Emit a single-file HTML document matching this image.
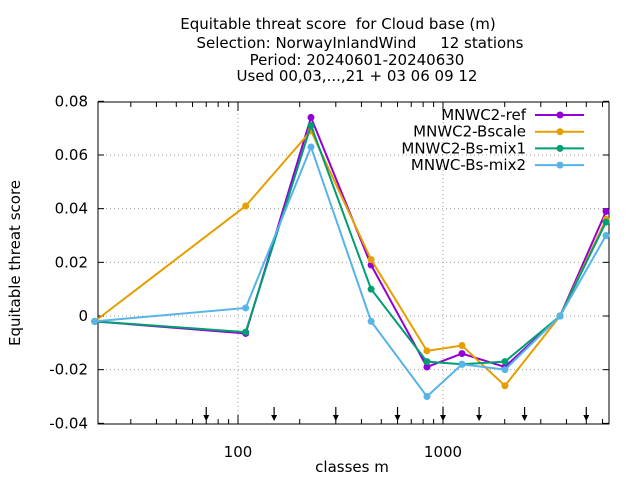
<!DOCTYPE html>
<html><head><meta charset="utf-8"><style>
body{margin:0;background:#fff;}
svg text{font-family:"DejaVu Sans","Liberation Sans",sans-serif;white-space:pre;}
</style></head><body>
<svg id="chart" width="640" height="480" xmlns="http://www.w3.org/2000/svg" xml:space="preserve">
<g font-size="15" text-anchor="middle">
<text x="338" y="29">Equitable threat score  for Cloud base (m)</text>
<text x="360" y="48">Selection: NorwayInlandWind     12 stations</text>
<text x="357" y="65">Period: 20240601-20240630</text>
<text x="357" y="81">Used 00,03,...,21 + 03 06 09 12</text>
</g>
<g id="grid"></g>
<g id="axes"></g>
<g id="series"></g>
<g id="legend"></g>
<text x="352" y="472" font-size="15" text-anchor="middle">classes m</text>
<text transform="translate(20,263) rotate(-90)" font-size="15" text-anchor="middle">Equitable threat score</text>
</svg>
<script>
const classes=[20,109,227,446,835,1238,2005,3724,6240];
const seriesNames=["MNWC2-ref","MNWC2-Bscale","MNWC2-Bs-mix1","MNWC-Bs-mix2"];
const seriesRef=[-0.002,-0.0065,0.074,0.019,-0.019,-0.014,-0.019,0,0.039];
const seriesBscale=[-0.002,0.041,0.069,0.021,-0.013,-0.011,-0.026,0,0.036];
const seriesMix1=[-0.002,-0.006,0.071,0.010,-0.017,-0.018,-0.017,0,0.035];
const seriesMix2=[-0.002,0.003,0.063,-0.002,-0.030,-0.018,-0.020,0,0.030];
const yTicks=[0.08,0.06,0.04,0.02,0,-0.02,-0.04];
const yTickLabels=["0.08","0.06","0.04","0.02","0","-0.02","-0.04"];
const xTicks=[100,1000];
const xTickLabels=["100","1000"];
const thresholds=[70,150,300,600,1000,1500,2500,5000];
const colors=["#9400d3","#e69f00","#009e73","#56b4e9"];
const X0=98,X1=609,Y0=102,Y1=424;
function xs(v){return 238+205*(Math.log10(v)-2);}
function ys(v){return 316-(v/0.02)*53.67;}
const NS="http://www.w3.org/2000/svg";
function mk(tag,attrs,parent){const e=document.createElementNS(NS,tag);for(const k in attrs)e.setAttribute(k,attrs[k]);parent.appendChild(e);return e;}
const grid=document.getElementById('grid'),axes=document.getElementById('axes');
yTicks.forEach((t,i)=>{
  const y=ys(t);
  if(i>0&&i<yTicks.length-1){const l=mk('line',{x1:X0,x2:X1,y1:y,y2:y,stroke:'#a0a0a0','stroke-dasharray':'1,3'},grid);
  
  }
  mk('line',{x1:X0,x2:X0+6,y1:y,y2:y,stroke:'#000'},axes);
  mk('line',{x1:X1,x2:X1-6,y1:y,y2:y,stroke:'#000'},axes);
  const tx=mk('text',{x:88,y:y+5,'font-size':15,'text-anchor':'end'},axes);
  tx.textContent=yTickLabels[i];
  
  
});
xTicks.forEach((t,i)=>{
  const x=xs(t);
  const l=mk('line',{x1:x,x2:x,y1:Y0,y2:Y1,stroke:'#a0a0a0','stroke-dasharray':'1,3'},grid);
  
  
  mk('line',{x1:x,x2:x,y1:Y1,y2:Y1-9,stroke:'#000'},axes);
  mk('line',{x1:x,x2:x,y1:Y0,y2:Y0+9,stroke:'#000'},axes);
  const tx=mk('text',{x:x,y:457,'font-size':15,'text-anchor':'middle'},axes);
  tx.textContent=xTickLabels[i];
  
  
});
for(let d=10;d<=1000;d*=10){for(let m=2;m<=9;m++){const v=d*m;const x=xs(v);if(x<X0||x>X1)continue;
  mk('line',{x1:x,x2:x,y1:Y1,y2:Y1-5,stroke:'#000'},axes);
  mk('line',{x1:x,x2:x,y1:Y0,y2:Y0+5,stroke:'#000'},axes);}}
const frame=mk('rect',{x:X0,y:Y0,width:X1-X0,height:Y1-Y0,fill:'none',stroke:'#000'},axes);


thresholds.forEach(t=>{const x=xs(t);
  const g=mk('g',{},axes);
  
  
  mk('line',{x1:x,x2:x,y1:407,y2:420,stroke:'#000','stroke-width':1.2},g);
  mk('path',{d:`M${x-3},415 L${x+3},415 L${x},421 Z`,fill:'#000'},g);
});
const ser=document.getElementById('series');
const allSeries=[seriesRef,seriesBscale,seriesMix1,seriesMix2];
const names=['series-mnwc2-ref','series-mnwc2-bscale','series-mnwc2-bs-mix1','series-mnwc-bs-mix2'];
allSeries.forEach((vals,si)=>{
  const g=mk('g',{},ser);
  
  
  const pts=vals.map((v,i)=>xs(classes[i])+','+ys(v)).join(' ');
  mk('polyline',{points:pts,fill:'none',stroke:colors[si],'stroke-width':2},g);
  vals.forEach((v,i)=>{const c=mk('circle',{cx:xs(classes[i]),cy:ys(v),r:3.5,fill:colors[si]},g);
    
    });
});
const leg=document.getElementById('legend');
seriesNames.forEach((n,i)=>{
  const y=115+16.7*i;
  const g=mk('g',{},leg);
  
  
  const t=mk('text',{x:526,y:y+5,'font-size':15,'text-anchor':'end'},g);t.textContent=n;
  mk('line',{x1:535,x2:584,y1:y,y2:y,stroke:colors[i],'stroke-width':2},g);
  mk('circle',{cx:560,cy:y,r:3.5,fill:colors[i]},g);
});
</script>
</body></html>
